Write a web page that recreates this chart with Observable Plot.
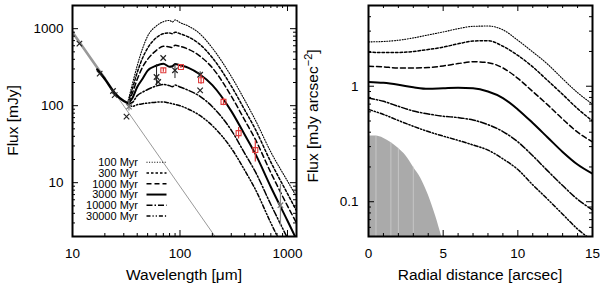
<!DOCTYPE html>
<html><head><meta charset="utf-8">
<script src="https://cdn.jsdelivr.net/npm/d3@7"></script>
<script src="https://cdn.jsdelivr.net/npm/@observablehq/plot@0.6"></script>
<style>
body{margin:0;background:#fff;}
#wrap{position:relative;width:600px;height:286px;overflow:hidden;font-family:"Liberation Sans",Arial,sans-serif;background:#fff;}
.panel{position:absolute;top:0;width:300px;height:286px;}
svg{overflow:visible}
#ov{position:absolute;left:0;top:0;pointer-events:none;}
</style></head><body>
<div id="wrap"><div id="left" class="panel" style="left:0"></div><div id="right" class="panel" style="left:300px"></div><svg id="ov" width="600" height="286"></svg></div>
<script>
// ---------- Left panel data (SED) ----------
const ages = ["100 Myr", "300 Myr", "1000 Myr", "3000 Myr", "10000 Myr", "30000 Myr"];
const sedWave = [33, 36, 40, 45, 50, 60, 70, 80, 85, 90, 100, 120, 150, 200, 300, 400, 500, 700, 1000, 1300];
const sed100   = [117, 190, 330, 560, 800, 1080, 1230, 1280, 1220, 1300, 1200, 1080, 880, 560, 240, 118, 66, 25, 10.5, 5.6];
const sed300   = [112, 165, 270, 420, 560, 760, 860, 880, 860, 900, 860, 780, 640, 420, 180, 88, 50, 18.5, 7.2, 3.6];
const sed1000  = [109, 145, 220, 320, 400, 520, 590, 580, 570, 610, 590, 540, 450, 310, 133, 65, 37, 13.5, 5.0, 2.5];
const sed3000  = [107, 125, 175, 225, 285, 330, 350, 320, 325, 348, 335, 310, 260, 185, 85, 42, 24, 8.8, 3.2, 1.5];
const sed10000 = [106, 110, 135, 150, 162, 180, 188, 182, 176, 185, 175, 158, 135, 97, 48, 24, 14, 5.2, 1.9, 0.9];
const sed30000 = [105, 98, 103, 106, 108, 111, 112, 108, 106, 104, 100, 90, 76, 55, 28, 14.5, 8.3, 3.0, 1.1, 0.55];
const baseWave = [17, 20, 25, 30, 33];
const baseFlux = [295, 222, 143, 115, 107];
const thickWave = [10, 14, 20];
const thickFlux = [900, 460, 225];
const photWave = [10, 212];
const photFlux = [890, 2];
const obsWave = [11.6, 17.9, 23.8, 24.7, 31.8, 60.5, 62.7, 69.8, 89.8, 154, 154];
const obsFlux = [640, 261, 155, 137, 72, 236, 203, 416, 288, 252, 158];
const obsErrWave = [60.5, 89.8, 154];
const obsErrLo = [180, 225, 235];
const obsErrHi = [340, 350, 275];
const redWave = [70, 102, 157, 254, 351, 502];
const redFlux = [288, 318, 214, 112, 44, 26.5];
const redLo = [272, 305, 190, 100, 37, 18.6];
const redHi = [305, 332, 250, 125, 52, 35];
const grayWave = [33.5, 860];
const grayFlux = [97, 5.1];
const grayLo = [85, 2.7];
const grayHi = [118, 9.5];
const sedXTicks = [10, 100, 1000];
const sedYTicks = [10, 100, 1000];

// ---------- Right panel data (radial profile) ----------
const radius = [0, 1, 2, 3, 4, 5, 6, 7, 8, 9, 10, 11, 12, 13, 14, 15];
const rad100   = [2.42, 2.44, 2.50, 2.62, 2.78, 2.95, 3.15, 3.30, 3.32, 3.08, 2.50, 1.98, 1.55, 1.16, 0.88, 0.70];
const rad300   = [1.97, 1.96, 1.96, 2.00, 2.08, 2.18, 2.33, 2.46, 2.48, 2.22, 1.85, 1.47, 1.12, 0.85, 0.64, 0.50];
const rad1000  = [1.49, 1.47, 1.44, 1.44, 1.45, 1.50, 1.57, 1.63, 1.60, 1.44, 1.17, 0.90, 0.69, 0.52, 0.40, 0.33];
const rad3000  = [1.09, 1.07, 1.03, 0.98, 0.95, 0.96, 0.97, 0.96, 0.90, 0.79, 0.63, 0.48, 0.36, 0.27, 0.21, 0.175];
const rad10000 = [0.79, 0.74, 0.67, 0.61, 0.575, 0.55, 0.535, 0.51, 0.465, 0.405, 0.33, 0.25, 0.185, 0.138, 0.105, 0.085];
const rad30000 = [0.63, 0.57, 0.505, 0.45, 0.405, 0.37, 0.34, 0.31, 0.28, 0.235, 0.19, 0.14, 0.105, 0.078, 0.058, 0.046];
const psfR = [0, 0.5, 1, 1.5, 2, 2.5, 3, 3.5, 4, 4.5, 4.9];
const psfF = [0.37, 0.37, 0.355, 0.325, 0.29, 0.25, 0.20, 0.16, 0.115, 0.075, 0.05];
const psfSeamR = [0.5, 1.5, 2, 3];
const psfSeamF = [0.37, 0.325, 0.29, 0.20];
const radXTicks = [0, 5, 10, 15];
const radYTicks = [0.1, 1];

// ---------- styles per age ----------
const dash = ["1,1.6", "2.5,2", "5,3", null, "6,2,1.5,2", "4,2,1.2,2,1.2,2"];
const widths = [1.1, 1.5, 1.5, 2, 1.5, 1.5];

const W = 224, H = 231;
const font = '"Liberation Sans", Arial, sans-serif';

function series(xs, arrays) {
  const rows = [];
  arrays.forEach((ys, i) => xs.forEach((x, j) => rows.push({x, y: ys[j], k: i})));
  return rows;
}
function modelLines(rows) {
  return ages.map((a, i) => Plot.line(rows.filter(d => d.k === i), {
    x: "x", y: "y", stroke: "black", strokeWidth: widths[i],
    strokeDasharray: dash[i] || undefined, curve: "monotone-x", clip: true
  }));
}
function ticks(xMaj, xMin, yMaj, yMin) {
  return [
    Plot.ruleX(xMaj, {x: d => d, insetTop: H - 6}),
    Plot.ruleX(xMaj, {x: d => d, insetBottom: H - 6}),
    Plot.ruleX(xMin, {x: d => d, insetTop: H - 3}),
    Plot.ruleX(xMin, {x: d => d, insetBottom: H - 3}),
    Plot.ruleY(yMaj, {y: d => d, insetRight: W - 6}),
    Plot.ruleY(yMaj, {y: d => d, insetLeft: W - 6}),
    Plot.ruleY(yMin, {y: d => d, insetRight: W - 3}),
    Plot.ruleY(yMin, {y: d => d, insetLeft: W - 3})
  ];
}
const logMinor = (lo, hi) => { const out = []; for (let e = lo; e < hi; e++) for (let m = 2; m <= 9; m++) out.push(m * Math.pow(10, e)); return out; };

// ---------- Left plot ----------
const sedRows = series(sedWave, [sed100, sed300, sed1000, sed3000, sed10000, sed30000]);
const idx = (arr) => arr.map((_, i) => i);
const left = Plot.plot({
  width: 300, height: 286,
  marginLeft: 72, marginRight: 4, marginTop: 5, marginBottom: 50,
  x: {type: "log", domain: [10, 1213], label: null},
  y: {type: "log", domain: [2, 2000], label: null},
  style: {fontFamily: font, fontSize: "13.5px", color: "black", background: "white", overflow: "visible"},
  marks: [
    Plot.line(photWave.map((w, i) => ({x: w, y: photFlux[i]})), {x: "x", y: "y", stroke: "#999", strokeWidth: 1, clip: true}),
    Plot.line(thickWave.map((w, i) => ({x: w, y: thickFlux[i]})), {x: "x", y: "y", stroke: "#999", strokeWidth: 2.6, clip: true}),
    Plot.line(baseWave.map((w, i) => ({x: w, y: baseFlux[i]})), {x: "x", y: "y", stroke: "black", strokeWidth: 2.4, curve: "monotone-x"}),
    ...modelLines(sedRows),
    Plot.ruleX(idx(grayWave), {x: i => grayWave[i], y1: i => grayLo[i], y2: i => grayHi[i], stroke: "#8a8a8a", strokeWidth: 1.2, clip: true}),
    Plot.dot(idx(grayWave), {x: i => grayWave[i], y: i => grayFlux[i], symbol: "times", r: 2.6, stroke: "#777", strokeWidth: 1.2}),
    Plot.ruleX(idx(obsErrWave), {x: i => obsErrWave[i], y1: i => obsErrLo[i], y2: i => obsErrHi[i], stroke: "#222", strokeWidth: 1}),
    Plot.dot(idx(obsWave), {x: i => obsWave[i], y: i => obsFlux[i], symbol: "times", r: 2.6, stroke: "#222", strokeWidth: 1.2}),
    Plot.ruleX(idx(redWave), {x: i => redWave[i], y1: i => redLo[i], y2: i => redHi[i], stroke: "#e03a3a", strokeWidth: 1.2}),
    Plot.dot(idx(redWave), {x: i => redWave[i], y: i => redFlux[i], symbol: "square", r: 2.8, stroke: "#e03a3a", strokeWidth: 1.1, fill: "none"}),
    ...ticks(sedXTicks, logMinor(1, 3), sedYTicks, logMinor(0, 3).filter(v => v > 2 && v < 2000)),
    Plot.axisX({ticks: sedXTicks, tickFormat: d => String(d), tickSize: 0, tickPadding: 12, label: null, fontSize: 13.5}),
    Plot.axisY({ticks: sedYTicks, tickFormat: d => String(d), tickSize: 0, tickPadding: 9, label: null, fontSize: 13.5}),
    Plot.frame({stroke: "black", strokeWidth: 2})
  ]
});
document.getElementById("left").appendChild(left);

// ---------- Right plot ----------
const radRows = series(radius, [rad100, rad300, rad1000, rad3000, rad10000, rad30000]);
const right = Plot.plot({
  width: 300, height: 286,
  marginLeft: 68, marginRight: 8, marginTop: 5, marginBottom: 50,
  x: {type: "linear", domain: [0, 15], label: null},
  y: {type: "log", domain: [0.05, 5], label: null},
  style: {fontFamily: font, fontSize: "13.5px", color: "black", background: "transparent", overflow: "visible"},
  marks: [
    Plot.areaY(psfR.map((r, i) => ({x: r, y: psfF[i]})), {x: "x", y1: 0.05, y2: "y", fill: "#aaaaaa", curve: "monotone-x", clip: true}),
    Plot.ruleX(idx(psfSeamR), {x: i => psfSeamR[i], y1: 0.05, y2: i => psfSeamF[i], stroke: "#d2d2d2", strokeWidth: 0.7}),
    ...modelLines(radRows),
    ...ticks(radXTicks, [1,2,3,4,6,7,8,9,11,12,13,14], radYTicks, logMinor(-2, 1).filter(v => v > 0.05 && v < 5)),
    Plot.axisX({ticks: radXTicks, tickFormat: d => String(d), tickSize: 0, tickPadding: 12, label: null, fontSize: 13.5}),
    Plot.axisY({ticks: radYTicks, tickFormat: d => String(d), tickSize: 0, tickPadding: 10, label: null, fontSize: 13.5}),
    Plot.frame({stroke: "black", strokeWidth: 2})
  ]
});
document.getElementById("right").appendChild(right);

// ---------- Titles and legend (overlay) ----------
const ov = d3.select("#ov").style("font-family", font);
ov.append("text").attr("x", 184).attr("y", 280).attr("text-anchor", "middle").attr("font-size", 15.5).text("Wavelength [μm]");
ov.append("text").attr("x", 480).attr("y", 280).attr("text-anchor", "middle").attr("font-size", 15.5).text("Radial distance [arcsec]");
ov.append("text").attr("transform", "translate(18,120.5) rotate(-90)").attr("text-anchor", "middle").attr("font-size", 15.5).text("Flux [mJy]");
const yl = ov.append("text").attr("transform", "translate(318,116) rotate(-90)").attr("text-anchor", "middle").attr("font-size", 15.5);
yl.append("tspan").text("Flux [mJy arcsec");
yl.append("tspan").attr("dy", -6).attr("font-size", 11).text("−2");
yl.append("tspan").attr("dy", 6).text("]");

ages.forEach((a, i) => {
  const y = 162.3 + i * 10.75;
  ov.append("text").attr("x", 138).attr("y", y).attr("dy", "0.35em").attr("text-anchor", "end").attr("font-size", 11).text(a);
  ov.append("line").attr("x1", 146.5).attr("x2", 166.5).attr("y1", y).attr("y2", y)
    .attr("stroke", "black").attr("stroke-width", widths[i]).attr("stroke-dasharray", dash[i] || null);
});
</script>
</body></html>
